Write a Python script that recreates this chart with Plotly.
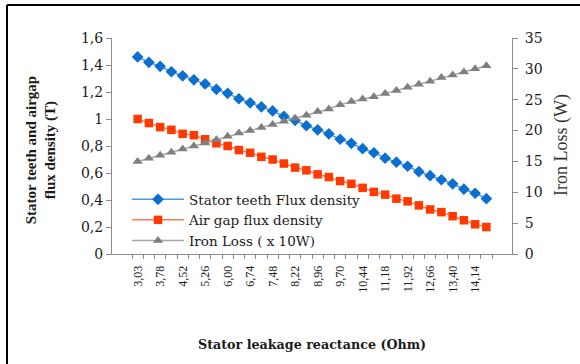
import plotly.graph_objects as go

# Stator leakage reactance (Ohm), one category per simulated point
reactance = [3.03, 3.41, 3.78, 4.15, 4.52, 4.89, 5.26, 5.63, 6.00, 6.37,
             6.74, 7.11, 7.48, 7.85, 8.22, 8.59, 8.96, 9.33, 9.70, 10.07,
             10.44, 10.81, 11.18, 11.55, 11.92, 12.29, 12.66, 13.03, 13.40,
             13.77, 14.14, 14.51]

# Flux densities (T)
teeth_flux = [1.46, 1.42, 1.39, 1.35, 1.32, 1.29, 1.26, 1.22, 1.19, 1.15,
              1.12, 1.09, 1.06, 1.02, 0.99, 0.95, 0.92, 0.89, 0.85, 0.82,
              0.78, 0.75, 0.71, 0.68, 0.65, 0.61, 0.58, 0.55, 0.52, 0.48,
              0.45, 0.41]
airgap_flux = [1.00, 0.97, 0.94, 0.92, 0.89, 0.88, 0.85, 0.82, 0.80, 0.77,
               0.75, 0.72, 0.70, 0.67, 0.64, 0.62, 0.59, 0.57, 0.54, 0.52,
               0.49, 0.46, 0.44, 0.41, 0.39, 0.36, 0.33, 0.31, 0.28, 0.25,
               0.22, 0.20]
# Iron loss (x 10 W)
iron_loss = [15.0, 15.5, 16.0, 16.5, 17.0, 17.5, 18.0, 18.5, 19.1, 19.6,
             20.0, 20.5, 21.0, 21.5, 22.0, 22.5, 23.1, 23.5, 24.2, 24.7,
             25.1, 25.5, 26.0, 26.5, 27.0, 27.5, 28.0, 28.6, 29.0, 29.5,
             30.0, 30.5]

cats = [f"{v:.2f}".replace(".", ",") for v in reactance]
tick_text = [c if i % 2 == 0 else "" for i, c in enumerate(cats)]

SERIF = "Liberation Serif"
WIDE_SERIF = "DejaVu Serif"
AXIS_GREY = "#8c8c8c"
TEXT = "#1a1a1a"

fig = go.Figure()
fig.add_trace(go.Scatter(
    x=cats, y=teeth_flux, mode="lines+markers", name="Stator teeth Flux density",
    line=dict(color="#4a9ae0", width=1.5),
    marker=dict(symbol="diamond", size=9, color="#0a6fd0"),
))
fig.add_trace(go.Scatter(
    x=cats, y=airgap_flux, mode="lines+markers", name="Air gap flux density",
    line=dict(color="#ff7a50", width=1.5),
    marker=dict(symbol="square", size=8.5, color="#ff3a00"),
))
fig.add_trace(go.Scatter(
    x=cats, y=iron_loss, mode="lines+markers", name="Iron Loss ( x 10W)",
    yaxis="y2",
    line=dict(color="#a6a6a6", width=1.5),
    marker=dict(symbol="triangle-up", size=9, color="#7f7f7f"),
))

fig.update_layout(
    width=580, height=364,
    margin=dict(l=112, r=68, t=38, b=110),
    paper_bgcolor="white", plot_bgcolor="white",
    separators=",.",
    font=dict(family=SERIF, size=14, color=TEXT),
    showlegend=True,
    legend=dict(x=0.0375, y=0.324, xanchor="left", yanchor="top",
                bgcolor="rgba(0,0,0,0)", font=dict(family=WIDE_SERIF, size=13.5, color=TEXT),
                tracegroupgap=0, itemwidth=52),
    xaxis=dict(
        type="category", categoryorder="array", categoryarray=cats,
        tickmode="array", tickvals=cats, ticktext=tick_text,
        tickson="boundaries", ticks="outside", ticklen=4, tickcolor=AXIS_GREY,
        tickangle=-90, ticklabelstandoff=6,
        tickfont=dict(family=SERIF, size=12, color=TEXT),
        showline=True, linecolor=AXIS_GREY, linewidth=1,
        showgrid=False, zeroline=False,
    ),
    yaxis=dict(
        range=[0, 1.6], dtick=0.2, tick0=0,
        ticks="outside", ticklen=5, tickcolor=AXIS_GREY,
        tickfont=dict(family=WIDE_SERIF, size=14, color=TEXT),
        showline=True, linecolor=AXIS_GREY, linewidth=1,
        showgrid=False, zeroline=False,
    ),
    yaxis2=dict(
        range=[0, 35], dtick=5, tick0=0, overlaying="y", side="right",
        ticks="outside", ticklen=5, tickcolor=AXIS_GREY, ticklabelstandoff=4,
        tickfont=dict(family=WIDE_SERIF, size=14, color=TEXT),
        showline=True, linecolor=AXIS_GREY, linewidth=1,
        showgrid=False, zeroline=False,
    ),
    annotations=[
        dict(text="<b>Stator teeth and airgap<br>flux density (T)</b>",
             xref="paper", yref="paper", x=-0.1775, y=0.48,
             xanchor="center", yanchor="middle", textangle=-90, showarrow=False,
             font=dict(family=SERIF, size=15, color=TEXT)),
        dict(text="Iron Loss (W)",
             xref="paper", yref="paper", x=1.125, y=0.505,
             xanchor="center", yanchor="middle", textangle=-90, showarrow=False,
             font=dict(family=SERIF, size=18, color="#333333")),
        dict(text="<b>Stator leakage reactance (Ohm)</b>",
             xref="paper", yref="paper", x=0.5, y=-0.421,
             xanchor="center", yanchor="middle", showarrow=False,
             font=dict(family=WIDE_SERIF, size=12.7, color=TEXT)),
    ],
    shapes=[
        dict(type="line", xref="paper", yref="paper",
             x0=-0.2625, x1=-0.2625, y0=1.153, y1=-0.7,
             line=dict(color="black", width=2)),
        dict(type="line", xref="paper", yref="paper",
             x0=-0.2625, x1=1.3, y0=1.153, y1=1.153,
             line=dict(color="black", width=2)),
    ],
)

fig.write_html("out.html")
